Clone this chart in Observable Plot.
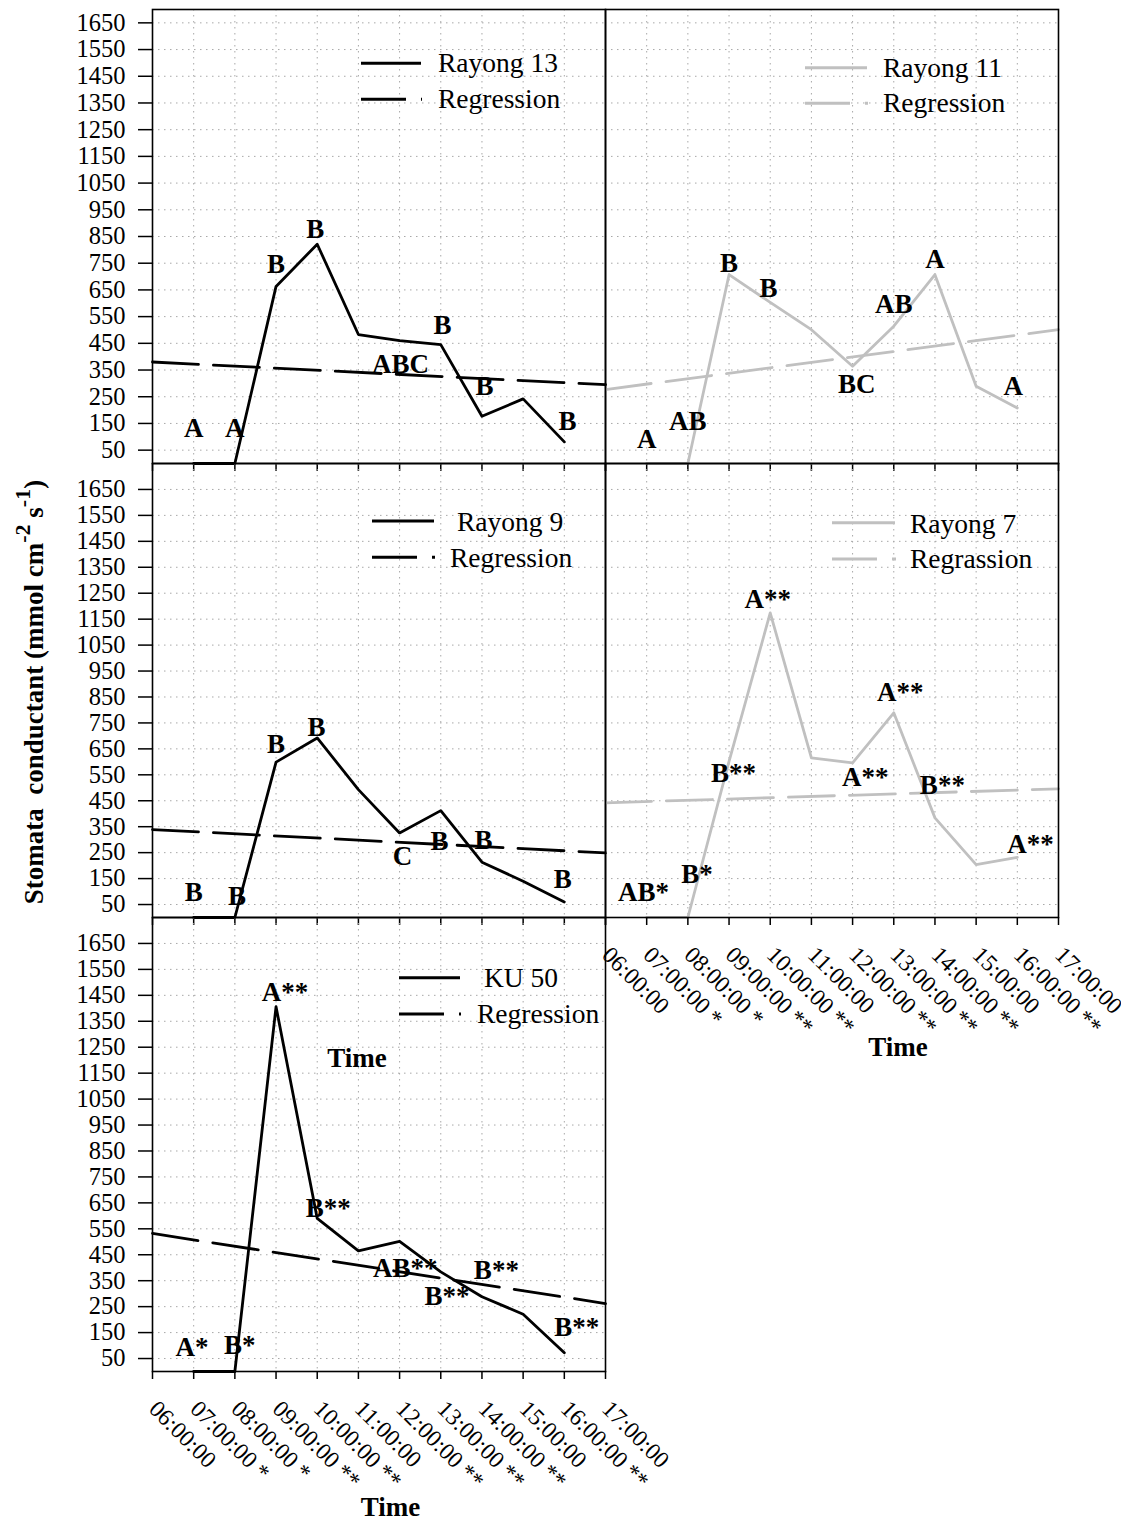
<!DOCTYPE html>
<html>
<head>
<meta charset="utf-8">
<script src="https://cdn.jsdelivr.net/npm/d3@7"></script>
<script src="https://cdn.jsdelivr.net/npm/@observablehq/plot@0.6"></script>
<style>
  html, body { margin: 0; padding: 0; background: #fff; overflow: hidden; }
  #chart { position: relative; width: 1121px; height: 1520px; overflow: hidden; background: #fff;
           font-family: "Liberation Serif", "Times New Roman", serif; }
  #ytitle { position: absolute; left: 31px; top: 692px; transform: translate(-50%, -50%) rotate(-90deg);
            white-space: nowrap; font-weight: bold; font-size: 27px; line-height: 1; }
  #ytitle sup { font-size: 22px; position: relative; top: -3px; }
</style>
</head>
<body>
<div id="chart"><div id="ytitle">Stomata&nbsp; conductant (mmol cm<sup>-2</sup> s<sup>-1</sup>)</div></div>
<script>
// ---------- data ----------
const hours = [7, 8, 9, 10, 11, 12, 13, 14, 15, 16];
const ticksX = [6, 7, 8, 9, 10, 11, 12, 13, 14, 15, 16, 17];
const tickLabelsX = ["06:00:00", "07:00:00 *", "08:00:00 *", "09:00:00 **", "10:00:00 **", "11:00:00",
                     "12:00:00 **", "13:00:00 **", "14:00:00 **", "15:00:00", "16:00:00 **", "17:00:00"];
const ticksY = [50, 150, 250, 350, 450, 550, 650, 750, 850, 950, 1050, 1150, 1250, 1350, 1450, 1550, 1650];

const rayong13 = [0, 0, 663, 821, 483, 460, 445, 177, 242, 81];
const rayong11 = [0, 0, 707, 603, 501, 364, 514, 707, 289, 208];
const rayong9  = [0, 0, 599, 692, 493, 326, 412, 213, 140, 60];
const rayong7  = [0, 0, 602, 1174, 615, 596, 789, 384, 204, 232];
const ku50     = [0, 0, 1406, 590, 465, 502, 384, 288, 221, 72];

const regHours = [6, 17];
const reg13 = [380, 295];
const reg11 = [277, 501];
const reg9  = [339, 249];
const reg7  = [442, 496];
const reg50 = [532, 262];

const letters13 = ["A", "A", "B", "B", "ABC", "B", "B", "B"];
const letterX13 = [7, 8, 9, 9.95, 12.02, 13.04, 14.06, 16.08];
const letterY13 = [132, 132, 745, 876, 372, 518, 290, 159];

const letters11 = ["A", "AB", "B", "B", "BC", "AB", "A", "A"];
const letterX11 = [7, 8, 9, 9.96, 12.1, 13, 14, 15.9];
const letterY11 = [90, 158, 750, 657, 298, 595, 763, 289];

const letters9 = ["B", "B", "B", "B", "C", "B", "B", "B"];
const letterX9 = [7, 8.05, 9, 9.98, 12.07, 12.97, 14.04, 15.96];
const letterY9 = [95, 82, 669, 731, 236, 294, 298, 146];

const letters7 = ["AB*", "B*", "B**", "A**", "A**", "A**", "B**", "A**"];
const letterX7 = [6.92, 8.22, 9.11, 9.94, 12.31, 13.16, 14.18, 16.32];
const letterY7 = [95, 168, 557, 1226, 541, 866, 510, 281];

const letters50 = ["A*", "B*", "A**", "B**", "AB**", "B**", "B**", "B**"];
const letterX50 = [6.96, 8.12, 9.22, 10.27, 12.14, 13.15, 14.35, 16.3];
const letterY50 = [92, 101, 1463, 628, 397, 288, 390, 172];

// ---------- drawing ----------
const FONT = "'Liberation Serif', 'Times New Roman', serif";
const GRAY = "#c0c0c0";
const FW = 453, FH = 454;
const chart = document.getElementById("chart");

function legendMark(lg, color, mL, mT) {
  return () => {
    const g = d3.create("svg:g").attr("font-family", FONT).attr("font-size", 27.5)
      .attr("fill", "black").attr("text-anchor", "start");
    g.append("line").attr("x1", mL + lg.x1).attr("x2", mL + lg.x2)
      .attr("y1", mT + lg.y1).attr("y2", mT + lg.y1)
      .attr("stroke", color).attr("stroke-width", 3);
    g.append("line").attr("x1", mL + lg.x1).attr("x2", mL + lg.x2 + 1)
      .attr("y1", mT + lg.y2).attr("y2", mT + lg.y2)
      .attr("stroke", color).attr("stroke-width", 3).attr("stroke-dasharray", "45,15");
    g.append("text").attr("x", mL + lg.tx1).attr("y", mT + lg.b1).text(lg.t1);
    g.append("text").attr("x", mL + lg.tx2).attr("y", mT + lg.b2).text(lg.t2);
    return g.node();
  };
}

function panel(cfg) {
  const mT = 12;
  const mL = cfg.yAxis ? 152 : 12;
  const mR = cfg.mR ?? 12;
  const mB = cfg.mB ?? 14;
  const data = hours.map((h, i) => ({h, v: cfg.values[i]}));
  const regData = regHours.map((h, i) => ({h, v: cfg.reg[i]}));
  const lab = cfg.letters.map((t, i) => ({t, h: cfg.letterX[i], v: cfg.letterY[i]}));
  const marks = [
    Plot.gridX(ticksX, {stroke: "#a8a8a8", strokeOpacity: 1, strokeWidth: 1, strokeDasharray: "1.5,4.5"}),
    Plot.gridY(ticksY, {stroke: "#a8a8a8", strokeOpacity: 1, strokeWidth: 1, strokeDasharray: "1.5,4.5"}),
    Plot.line(regData, {x: "h", y: "v", stroke: cfg.color, strokeWidth: 2.8, strokeDasharray: "46,15"}),
    Plot.line(data, {x: "h", y: "v", stroke: cfg.color, strokeWidth: 2.8}),
    Plot.frame({stroke: "black", strokeWidth: 1.6}),
    Plot.axisX(ticksX, {tickSize: 8, tickFormat: () => "", strokeWidth: 1.5, label: null}),
    Plot.text(lab, {x: "h", y: "v", text: "t", fontWeight: "bold", fontSize: 27, fill: "black"}),
    legendMark(cfg.legend, cfg.color, mL, mT)
  ];
  if (cfg.yAxis) {
    marks.push(Plot.axisY(ticksY, {tickSize: 14, tickPadding: 13, fontSize: 24.5, strokeWidth: 1.5,
      tickFormat: d => String(d), label: null}));
  }
  if (cfg.xLabels) {
    marks.push(Plot.text(ticksX, {x: d => d, text: (d, i) => tickLabelsX[i], frameAnchor: "bottom",
      rotate: 45, textAnchor: "start", lineAnchor: "top", dx: 7, dy: 27, fontSize: 23.5, fill: "black"}));
    marks.push(Plot.text(["Time"], {frameAnchor: "bottom", dx: cfg.timeDx, dy: cfg.timeDy,
      fontWeight: "bold", fontSize: 27, fill: "black"}));
  }
  if (cfg.strayTime) {
    marks.push(Plot.text(["Time"], {frameAnchor: "top", dx: -22, dy: 130,
      fontWeight: "bold", fontSize: 27, fill: "black"}));
  }
  const svg = Plot.plot({
    width: mL + FW + mR, height: mT + FH + mB,
    marginLeft: mL, marginRight: mR, marginTop: mT, marginBottom: mB,
    x: {domain: [6, 17]},
    y: {domain: [0, cfg.yMax], axis: cfg.yAxis ? undefined : null},
    style: {background: "transparent", fontFamily: FONT, fontSize: "26px", color: "black", overflow: "visible"},
    marks
  });
  svg.style.position = "absolute";
  svg.style.left = (cfg.left - mL) + "px";
  svg.style.top = (cfg.top - mT) + "px";
  chart.appendChild(svg);
}

panel({left: 152, top: 9, yMax: 1700, yAxis: true, color: "black",
  values: rayong13, reg: reg13, letters: letters13, letterX: letterX13, letterY: letterY13,
  legend: {x1: 209, x2: 269, y1: 54.3, y2: 90.3, tx1: 286, tx2: 286, b1: 63.3, b2: 98.7, t1: "Rayong 13", t2: "Regression"}});

panel({left: 605, top: 9, yMax: 1700, yAxis: false, color: GRAY,
  values: rayong11, reg: reg11, letters: letters11, letterX: letterX11, letterY: letterY11,
  legend: {x1: 200, x2: 262, y1: 58.7, y2: 94.3, tx1: 278, tx2: 278, b1: 67.7, b2: 103.3, t1: "Rayong 11", t2: "Regression"}});

panel({left: 152, top: 463, yMax: 1750, yAxis: true, color: "black",
  values: rayong9, reg: reg9, letters: letters9, letterX: letterX9, letterY: letterY9,
  legend: {x1: 220, x2: 282, y1: 58, y2: 94.3, tx1: 305, tx2: 298, b1: 68, b2: 103.7, t1: "Rayong 9", t2: "Regression"}});

panel({left: 605, top: 463, yMax: 1750, yAxis: false, color: GRAY, xLabels: true, mR: 70, mB: 160,
  timeDx: 66, timeDy: 138,
  values: rayong7, reg: reg7, letters: letters7, letterX: letterX7, letterY: letterY7,
  legend: {x1: 227, x2: 290, y1: 59.7, y2: 96, tx1: 305, tx2: 305, b1: 69.7, b2: 105.3, t1: "Rayong 7", t2: "Regrassion"}});

panel({left: 152, top: 917, yMax: 1750, yAxis: true, color: "black", xLabels: true, mR: 80, mB: 170,
  timeDx: 11.5, timeDy: 144, strayTime: true,
  values: ku50, reg: reg50, letters: letters50, letterX: letterX50, letterY: letterY50,
  legend: {x1: 247, x2: 308, y1: 60.7, y2: 97, tx1: 332, tx2: 325, b1: 69.7, b2: 105.7, t1: "KU 50", t2: "Regression"}});
</script>
</body>
</html>
